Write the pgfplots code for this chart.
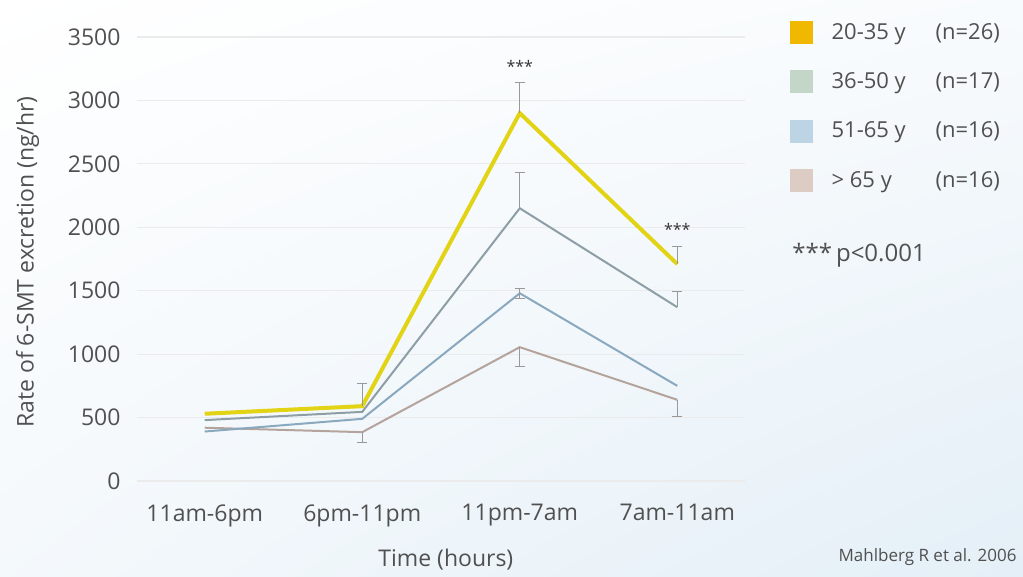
\documentclass[border=0pt]{standalone}
\usepackage{pgfplots}
\pgfplotsset{compat=1.18}
\usetikzlibrary{shadings}
\usepackage{fontspec}
\setmainfont{Open Sans}
\definecolor{cGoldL}{HTML}{E2D414}
\definecolor{cGoldS}{HTML}{F0B800}
\definecolor{cGrnL}{HTML}{8E9EA6}
\definecolor{cGrnS}{HTML}{C3D6C8}
\definecolor{cBluL}{HTML}{8AA8BE}
\definecolor{cBluS}{HTML}{BCD4E4}
\definecolor{cPnkL}{HTML}{B4A49C}
\definecolor{cPnkS}{HTML}{DCCCC4}
\definecolor{cErr}{HTML}{999999}
\definecolor{cTxt}{HTML}{505050}
\definecolor{cBg}{HTML}{E4EFF7}
\begin{document}
\begin{tikzpicture}[x=1pt,y=1pt]
\shade[upper left=white, upper right=white!75!cBg, lower left=white!60!cBg, lower right=cBg] (0,0) rectangle (1023,576);
\useasboundingbox (0,0) rectangle (1023,576);
\begin{axis}[
  at={(137pt,95pt)}, anchor=south west, scale only axis,
  width=608pt, height=444pt,
  xmin=-0.43, xmax=3.43, ymin=0, ymax=3500,
  xtick={0,1,2,3}, xticklabels={11am-6pm,6pm-11pm,11pm-7am,7am-11am},
  ytick={0,500,...,3500},
  axis line style={draw=none}, major tick length=0pt,
  ymajorgrids, grid style={draw=black!8, line width=1.2pt},
  tick label style={font=\fontsize{23}{26}\selectfont, text=cTxt},
  /pgf/number format/assume math mode=true,
  /pgf/number format/1000 sep={},
  xticklabel style={yshift=-20pt},
  yticklabel style={xshift=-13pt},
  xlabel={Time (hours)},
  xlabel style={at={(axis description cs:0.508,0)}, anchor=center, yshift=-79pt, font=\fontsize{23}{26}\selectfont, text=cTxt},
  ylabel={Rate of 6-SMT excretion (ng/hr)},
  ylabel style={at={(axis description cs:-0.18,0.493)}, anchor=center, font=\fontsize{23}{26}\selectfont, text=cTxt},
  error bars/error bar style={cErr, line width=1pt},
  error bars/error mark options={rotate=90, mark size=5pt, cErr, line width=1pt},
  legend style={at={(rel axis cs:1.074,1.037)}, anchor=north west, draw=none, fill=none,
    font=\fontsize{22}{25}\selectfont, text=cTxt, row sep=27pt, inner sep=0pt,
    nodes={inner sep=2pt}, /tikz/every odd column/.append style={column sep=17pt}},
  legend cell align=left,
  clip=false,
]
\addplot[cPnkL, line width=2pt, forget plot, error bars/.cd, y dir=both, y explicit]
 coordinates {(0,420) (1,385) -= (0,80) (2,1055) -= (0,150) (3,640) -= (0,135)};
\addplot[cBluL, line width=2pt, forget plot, error bars/.cd, y dir=both, y explicit]
 coordinates {(0,390) (1,490) (2,1480) += (0,40) -= (0,40) (3,750)};
\addplot[cGrnL, line width=2pt, forget plot, error bars/.cd, y dir=both, y explicit]
 coordinates {(0,480) (1,545) (2,2150) += (0,285) (3,1370) += (0,120)};
\addplot[cGoldL, line width=4pt, forget plot, error bars/.cd, y dir=both, y explicit]
 coordinates {(0,530) (1,590) += (0,175) (2,2900) += (0,240) (3,1710) += (0,140)};
\node[font=\fontsize{16}{18}\selectfont, text=black!80] at (axis cs:2,3270) {***};
\node[font=\fontsize{16}{18}\selectfont, text=black!80] at (axis cs:3,1985) {***};
\addlegendimage{legend image code/.code={\fill[cGoldS] (0pt,-11pt) rectangle (22pt,11pt);}}
\addlegendentry{\makebox[104pt][l]{20-35 y}(n=26)}
\addlegendimage{legend image code/.code={\fill[cGrnS] (0pt,-11pt) rectangle (22pt,11pt);}}
\addlegendentry{\makebox[104pt][l]{36-50 y}(n=17)}
\addlegendimage{legend image code/.code={\fill[cBluS] (0pt,-11pt) rectangle (22pt,11pt);}}
\addlegendentry{\makebox[104pt][l]{51-65 y}(n=16)}
\addlegendimage{legend image code/.code={\fill[cPnkS] (0pt,-11pt) rectangle (22pt,11pt);}}
\addlegendentry{\makebox[104pt][l]{> 65 y}(n=16)}
\node[anchor=west, font=\fontsize{24}{27}\selectfont, text=cTxt] at (rel axis cs:1.072,0.509) {***\,p<0.001};
\end{axis}
\node[anchor=east, font=\fontsize{17}{20}\selectfont, text=cTxt] at (1020,19) {Mahlberg R et al. 2006};
\end{tikzpicture}
\end{document}
